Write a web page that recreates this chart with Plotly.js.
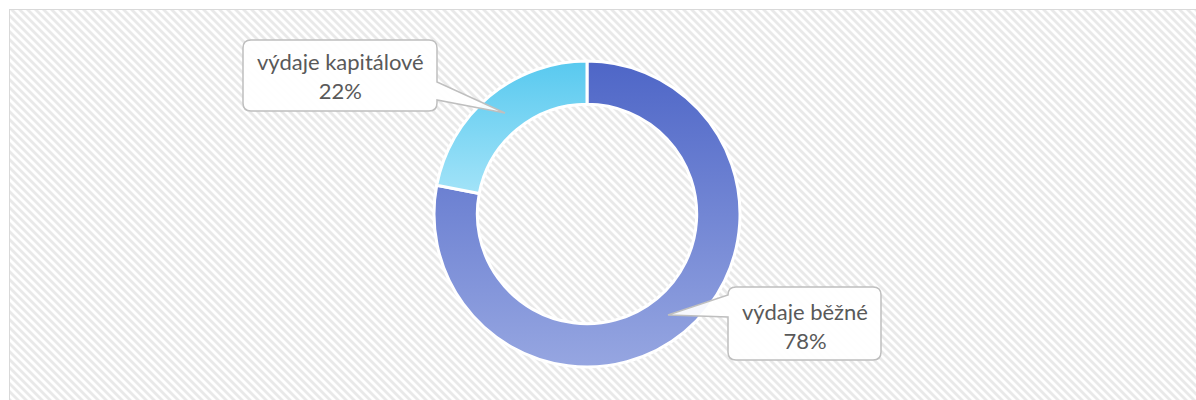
<!DOCTYPE html>
<html>
<head>
<meta charset="utf-8">
<script src="https://cdn.plot.ly/plotly-3.0.1.min.js"></script>
<style>
  html, body { margin: 0; padding: 0; background: #ffffff; width: 1196px; height: 400px; overflow: hidden; }
  #frame {
    position: absolute; left: 9px; top: 9px; width: 1200px; height: 400px;
    border: 1px solid #d9d9d9;
    background-color: #ffffff;
    background-image: url("data:image/svg+xml,%3Csvg xmlns='http://www.w3.org/2000/svg' width='8' height='8'%3E%3Cpath d='M0 0 L4 0 L8 4 L8 8 Z M0 4 L4 8 L0 8 Z' fill='%23e9e9e9'/%3E%3C/svg%3E");
    background-position: 0 0;
  }
  #chart { position: absolute; left: 0; top: 0; width: 1196px; height: 400px; }
</style>
</head>
<body>
<div id="frame"></div>
<div id="chart"></div>
<script>
// ---- data ----
const categories = ['výdaje běžné', 'výdaje kapitálové'];
const shares = [78, 22];
const sliceColors = ['#7386d4', '#7fd5f3'];
const gradTop = ['#4e66c7', '#58c9ef'];
const gradBottom = ['#96a6e1', '#a2e3f8'];

const W = 1196, H = 400;
const px = x => x / W;
const py = y => 1 - y / H;

// callout geometry (pixels)
const callouts = [
  { box: [728, 287, 881, 360], side: 'left', a: 295, b: 317, tip: [668, 315], text: [805, 326] },
  { box: [243, 40, 437, 111], side: 'right', a: 82, b: 100, tip: [505, 113], text: [340, 76] }
];

function P(x, y) { return px(x).toFixed(5) + ',' + py(y).toFixed(5); }
function bubble(c) {
  const [x0, y0, x1, y1] = c.box, r = 8;
  let d = 'M' + P(x0 + r, y0) + ' L' + P(x1 - r, y0) + ' Q' + P(x1, y0) + ' ' + P(x1, y0 + r);
  if (c.side === 'right') d += ' L' + P(x1, c.a) + ' L' + P(c.tip[0], c.tip[1]) + ' L' + P(x1, c.b);
  d += ' L' + P(x1, y1 - r) + ' Q' + P(x1, y1) + ' ' + P(x1 - r, y1);
  d += ' L' + P(x0 + r, y1) + ' Q' + P(x0, y1) + ' ' + P(x0, y1 - r);
  if (c.side === 'left') d += ' L' + P(x0, c.b) + ' L' + P(c.tip[0], c.tip[1]) + ' L' + P(x0, c.a);
  d += ' L' + P(x0, y0 + r) + ' Q' + P(x0, y0) + ' ' + P(x0 + r, y0) + ' Z';
  return d;
}

const total = shares.reduce((s, v) => s + v, 0);

const trace = {
  type: 'pie',
  labels: categories,
  values: shares,
  hole: 0.717,
  sort: false,
  direction: 'clockwise',
  rotation: 0,
  textinfo: 'none',
  hoverinfo: 'none',
  marker: { colors: sliceColors, line: { color: '#ffffff', width: 3 } },
  domain: { x: [(587 - 153) / W, (587 + 153) / W], y: [(H - 367) / H, (H - 61) / H] },
  showlegend: false
};

const shapes = callouts.map(c => ({
  type: 'path', xref: 'paper', yref: 'paper', path: bubble(c),
  fillcolor: 'rgba(255,255,255,0.93)', line: { color: '#bfbfbf', width: 1.5 }, layer: 'above'
}));

const annotations = callouts.map((c, i) => ({
  xref: 'paper', yref: 'paper', x: px(c.text[0]), y: py(c.text[1]),
  xanchor: 'center', yanchor: 'middle', showarrow: false, align: 'center',
  text: categories[i] + '<br>' + Math.round(shares[i] / total * 100) + '%',
  font: { family: 'Lato, "Open Sans", sans-serif', size: 22, color: '#595959' }
}));

const layout = {
  width: W, height: H,
  margin: { l: 0, r: 0, t: 0, b: 0, pad: 0 },
  paper_bgcolor: 'rgba(0,0,0,0)',
  plot_bgcolor: 'rgba(0,0,0,0)',
  shapes, annotations, showlegend: false
};

Plotly.newPlot('chart', [trace], layout, { staticPlot: true, displayModeBar: false }).then(gd => {
  const svg = gd.querySelector('.main-svg');
  const NS = 'http://www.w3.org/2000/svg';
  let defs = svg.querySelector('defs');
  if (!defs) { defs = document.createElementNS(NS, 'defs'); svg.insertBefore(defs, svg.firstChild); }
  gradTop.forEach((top, i) => {
    const g = document.createElementNS(NS, 'linearGradient');
    g.setAttribute('id', 'sliceGrad' + i);
    g.setAttribute('x1', '0'); g.setAttribute('y1', '0'); g.setAttribute('x2', '0'); g.setAttribute('y2', '1');
    const s0 = document.createElementNS(NS, 'stop'); s0.setAttribute('offset', '0'); s0.setAttribute('stop-color', top);
    const s1 = document.createElementNS(NS, 'stop'); s1.setAttribute('offset', '1'); s1.setAttribute('stop-color', gradBottom[i]);
    g.appendChild(s0); g.appendChild(s1); defs.appendChild(g);
  });
  gd.querySelectorAll('.slice path.surface').forEach((p, i) => {
    p.style.fill = 'url(#sliceGrad' + i + ')';
  });
});
</script>
</body>
</html>
